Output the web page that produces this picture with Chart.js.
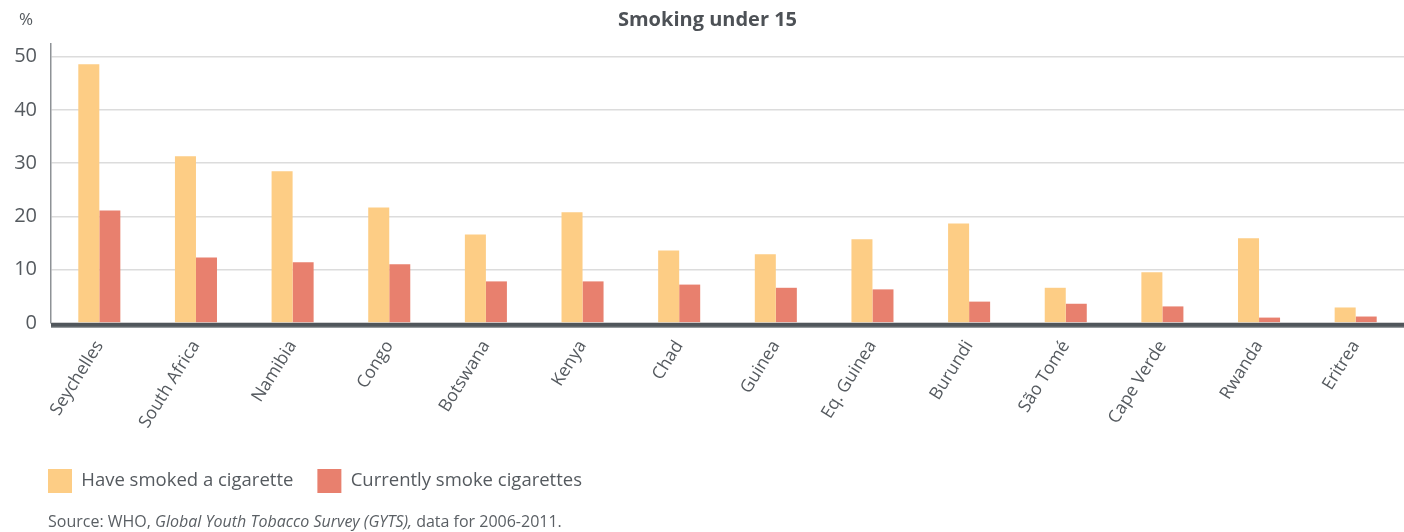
<!DOCTYPE html>
<html>
<head>
<meta charset="utf-8">
<script src="https://cdn.jsdelivr.net/npm/chart.js@4/dist/chart.umd.min.js"></script>
<style>
  html, body { margin: 0; padding: 0; background: #fff; }
  #wrap { position: relative; width: 1404px; height: 532px; }
  #source { position: absolute; left: 48px; top: 510px; font-family: "Open Sans", sans-serif; font-size: 16px; line-height: 22px; color: #5a5f64; white-space: nowrap; }
</style>
</head>
<body>
<div id="wrap">
  <canvas id="c" width="1404" height="532"></canvas>
  <div id="source">Source: WHO, <i>Global Youth Tobacco Survey (GYTS),</i> data for 2006-2011.</div>
</div>
<script>
const categories = ["Seychelles", "South Africa", "Namibia", "Congo", "Botswana", "Kenya", "Chad", "Guinea", "Eq. Guinea", "Burundi", "São Tomé", "Cape Verde", "Rwanda", "Eritrea"];
const haveSmoked = [48.6, 31.3, 28.5, 21.7, 16.6, 20.8, 13.6, 12.9, 15.7, 18.7, 6.6, 9.5, 15.9, 2.9];
const currentlySmoke = [21.1, 12.3, 11.4, 11.0, 7.8, 7.8, 7.2, 6.6, 6.3, 4.0, 3.6, 3.1, 1.0, 1.2];
const yTicks = [0, 10, 20, 30, 40, 50];

const FONT = '"Open Sans", sans-serif';
const TEXT = '#555a5f';

const extras = {
  id: 'extras',
  afterLayout(chart) {
    if (chart.legend) chart.legend.left = 24;
    if (chart.titleBlock) chart.titleBlock.left = 11;
  },
  afterDatasetsDraw(chart) {
    const ctx = chart.ctx;
    const a = chart.chartArea;
    ctx.save();
    ctx.fillStyle = '#50565b';
    ctx.fillRect(a.left, a.bottom, a.right - a.left, 4);
    ctx.fillStyle = '#8e9296';
    ctx.fillRect(a.left, a.bottom + 4, a.right - a.left, 1);
    ctx.restore();
  },
  afterDraw(chart) {
    const ctx = chart.ctx;
    ctx.save();
    ctx.font = '17px ' + FONT;
    ctx.fillStyle = TEXT;
    ctx.textAlign = 'center';
    ctx.textBaseline = 'middle';
    ctx.fillText('%', 26, 20);
    ctx.restore();
  }
};

new Chart(document.getElementById('c'), {
  type: 'bar',
  data: {
    labels: categories,
    datasets: [
      { label: 'Have smoked a cigarette', data: haveSmoked, backgroundColor: '#fdcd85', borderWidth: 0 },
      { label: 'Currently smoke cigarettes', data: currentlySmoke, backgroundColor: '#e8806e', borderWidth: 0 }
    ]
  },
  options: {
    responsive: false,
    animation: false,
    layout: { padding: { left: 0, right: 0, top: 0, bottom: 29 } },
    datasets: { bar: { categoryPercentage: 0.435, barPercentage: 1.0 } },
    plugins: {
      title: {
        display: true,
        text: 'Smoking under 15',
        color: '#4d5156',
        font: { family: FONT, size: 20, weight: 'bold' },
        padding: { top: 8, bottom: 12 }
      },
      legend: {
        position: 'bottom',
        align: 'start',
        labels: {
          boxWidth: 24,
          boxHeight: 24,
          padding: 24,
          color: TEXT,
          font: { family: FONT, size: 18.5 }
        }
      },
      tooltip: { enabled: false }
    },
    scales: {
      x: {
        grid: { display: false },
        border: { display: false },
        afterFit(scale) { scale.height += 7; },
        ticks: {
          color: TEXT,
          font: { family: FONT, size: 17.5 },
          minRotation: 58,
          maxRotation: 58,
          padding: 6,
          autoSkip: false
        }
      },
      y: {
        min: 0,
        max: 52.4,
        afterFit(scale) { scale.width = 51; },
        afterBuildTicks(scale) { scale.ticks = yTicks.map(v => ({ value: v })); },
        grid: { color: '#dcdcdc', lineWidth: 1.5, drawTicks: false },
        border: { display: true, color: '#8e9296', width: 1.5 },
        ticks: {
          color: TEXT,
          font: { family: FONT, size: 20 },
          padding: 14
        }
      }
    }
  },
  plugins: [extras]
});
</script>
</body>
</html>
